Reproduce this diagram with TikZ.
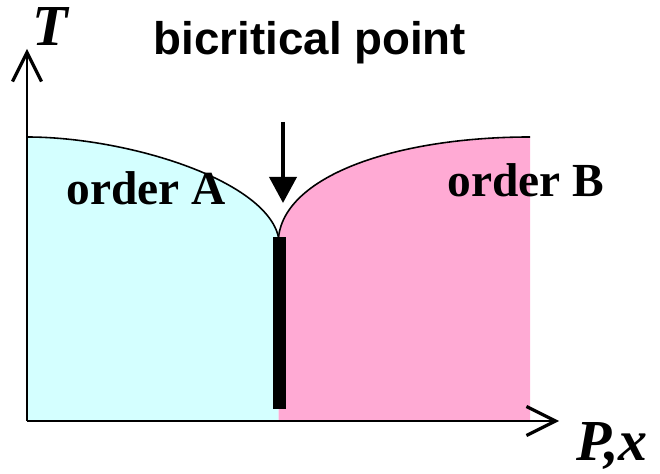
\documentclass[tikz,border=0pt]{standalone}
\usepackage{fontspec}
\setmainfont{Liberation Serif}
\newfontfamily\titlefont{Liberation Sans}
\usetikzlibrary{positioning,arrows.meta}
\definecolor{ordA}{HTML}{D4FFFF}
\definecolor{ordB}{HTML}{FFAAD4}

\begin{document}
\begin{tikzpicture}[
    axis/.style={line width=1.7pt,-{Straight Barb[length=0.58cm,width=0.58cm,line width=1.8pt]}},
    phase/.style={font=\fontsize{27}{31}\selectfont\bfseries},
    varlabel/.style={font=\fontsize{33}{37}\selectfont\bfseries\itshape}
  ]
    \useasboundingbox (0,0) rectangle (13.2,9.48);
    \coordinate (origin) at (0.54,1.06);
    \coordinate (ytip) at (0.54,8.5);
    \coordinate (xtip) at (11.18,1.06);
    \coordinate (cusp) at (5.57,4.74);
    \coordinate (arrtop) at (5.66,7.04);
    \coordinate (arrtip) at (5.66,5.42);
    % phase regions
    \fill[ordA] (origin) -- (0.54,6.74) .. controls (2.5,6.74) and (5.3,5.9) .. (cusp) -- (5.57,1.06) -- cycle;
    \fill[ordB] (5.57,1.06) -- (cusp) .. controls (5.72,6.0) and (8,6.74) .. (10.6,6.74) -- (10.6,1.06) -- cycle;
    \draw[line width=0.9pt] (0.54,6.74) .. controls (2.5,6.74) and (5.3,5.9) .. (cusp);
    \draw[line width=0.9pt] (cusp) .. controls (5.72,6.0) and (8,6.74) .. (10.6,6.74);
    % first order line
    \fill[black] (5.46,1.3) rectangle (5.72,4.74);
    % axes
    \draw[axis] (origin) -- (ytip);
    \draw[axis] (origin) -- (xtip);
    \draw[line width=2.2pt,-{Triangle[length=0.52cm,width=0.54cm]}] (arrtop) -- (arrtip);
    \node[varlabel] (tlab) at (1.0,8.94) {T};
    \node[varlabel] (plab) at (12.24,0.56) {P,x};
    \node[font=\fontsize{26}{30}\selectfont\titlefont\bfseries] (title) at (6.2,8.62) {bicritical point};
    \node[phase] (orderA) at (2.92,5.72) {order A};
    \node[phase] (orderB) at (10.52,5.88) {order B};
  \end{tikzpicture}
\end{document}
